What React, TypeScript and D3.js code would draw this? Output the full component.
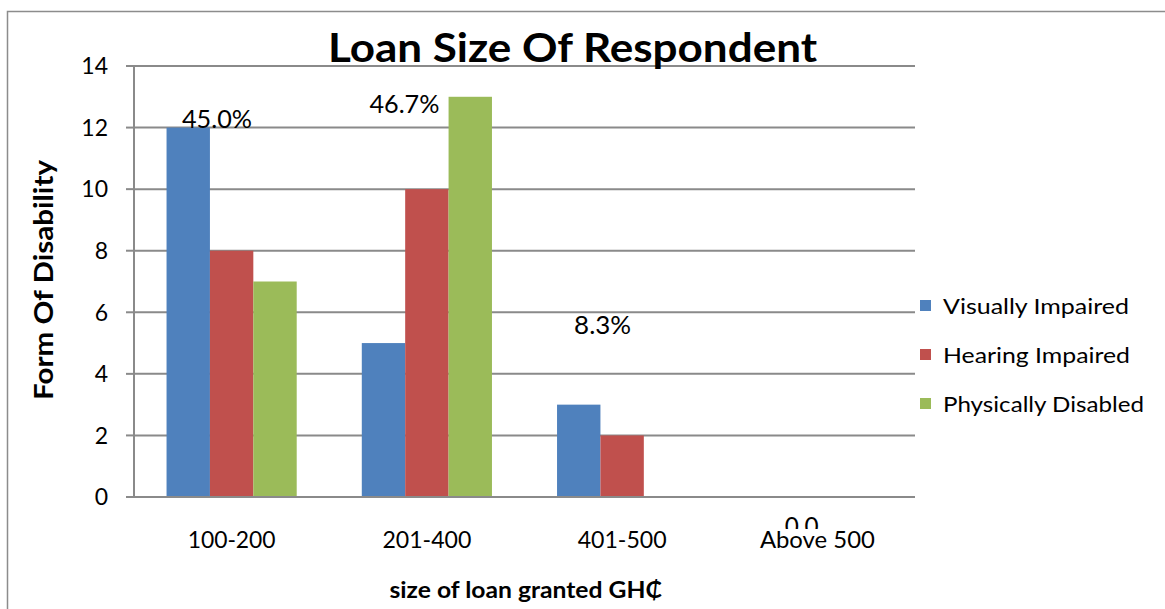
import React from "react";
import * as d3 from "d3";

const categories = ["100-200", "201-400", "401-500", "Above 500"];
const seriesNames = ["Visually Impaired", "Hearing Impaired", "Physically Disabled"];
const visuallyImpaired = [12, 5, 3, 0];
const hearingImpaired = [8, 10, 2, 0];
const physicallyDisabled = [7, 13, 0, 0];
const seriesColors = ["#4F81BD", "#C0504D", "#9BBB59"];
const yTicks = [0, 2, 4, 6, 8, 10, 12, 14];
const pctLabels = ["45.0%", "46.7%", "8.3%", "0.0"];
// label anchor positions expressed in data units (y) and category-relative offset
const pctLabelY = [11.98, 12.47, 5.3, -1.25];
const pctLabelDx = [-0.075, -0.115, -0.1, -0.08];

const FONT = "Lato, 'Open Sans', sans-serif";

export default function App() {
  const W = 1165, H = 609;
  const left = 134, right = 915, top = 66, bottom = 497;
  const x = d3.scaleBand<string>().domain(categories).range([left, right]).paddingInner(0).paddingOuter(0);
  const y = d3.scaleLinear().domain([0, 14]).range([bottom, top]);
  const groupW = x.bandwidth() * (3 / 4.5);
  const xs = d3.scaleBand<number>().domain([0, 1, 2]).range([0, groupW]);
  const series = [visuallyImpaired, hearingImpaired, physicallyDisabled];
  const catLen = [88, 89, 89, 115];
  const pctLen = [70, 70, 57, 34];
  const legLen = [186, 187, 201];

  return (
    <svg width={W} height={H} style={{ position: "absolute", left: 0, top: 0, background: "#fff" }} fontFamily={FONT}>
      <rect x={0} y={0} width={W} height={H} fill="#fff" />
      {/* outer border */}
      <path d={`M7.5,${H} V11.5 H${W}`} fill="none" stroke="#8c8c8c" strokeWidth={1.5} />
      {/* gridlines */}
      {yTicks.map((t) => (
        <g key={t}>
          {t > 0 && <line x1={left} x2={right} y1={y(t)} y2={y(t)} stroke="#8a8a8a" strokeWidth={2} />}
          <line x1={left - 8} x2={left} y1={y(t)} y2={y(t)} stroke="#8a8a8a" strokeWidth={2} />
          <text x={108} y={y(t)} dy="0.36em" textAnchor="end" fontSize={23} fill="#000">{t}</text>
        </g>
      ))}
      {/* bars */}
      {categories.map((c, i) => {
        const gx = (x(c) as number) + (x.bandwidth() - groupW) / 2;
        return series.map((s, k) =>
          s[i] > 0 ? (
            <rect key={c + k} x={gx + (xs(k) as number)} y={y(s[i])} width={xs.bandwidth()} height={y(0) - y(s[i])} fill={seriesColors[k]} />
          ) : null
        );
      })}
      {/* axes */}
      <line x1={left} x2={left} y1={top} y2={bottom} stroke="#8a8a8a" strokeWidth={2} />
      <line x1={left - 8} x2={right} y1={bottom} y2={bottom} stroke="#8a8a8a" strokeWidth={2} />
      {/* data labels */}
      {categories.map((c, i) => (
        <text key={"p" + c} x={(x(c) as number) + x.bandwidth() * (0.5 + pctLabelDx[i])} y={y(pctLabelY[i])} textAnchor="middle" fontSize={25} fill="#000" textLength={pctLen[i]} lengthAdjust="spacingAndGlyphs">{pctLabels[i]}</text>
      ))}
      {/* category labels */}
      {categories.map((c, i) => (
        <g key={"c" + c}>
          <rect x={(x(c) as number) + 20} y={529} width={x.bandwidth() - 40} height={28} fill="#fff" />
          <text x={(x(c) as number) + x.bandwidth() / 2} y={548} textAnchor="middle" fontSize={24} fill="#000" textLength={catLen[i]} lengthAdjust="spacingAndGlyphs">{c}</text>
        </g>
      ))}
      {/* title */}
      <text x={572.5} y={62} textAnchor="middle" fontSize={41} fontWeight="bold" fill="#000" textLength={489} lengthAdjust="spacingAndGlyphs">Loan Size Of Respondent</text>
      {/* axis titles */}
      <text transform={`translate(53,${280}) rotate(-90)`} textAnchor="middle" fontSize={26} fontWeight="bold" fill="#000" textLength={240} lengthAdjust="spacingAndGlyphs">Form Of Disability</text>
      <text x={526} y={598} textAnchor="middle" fontSize={23} fontWeight="bold" fill="#000" textLength={273} lengthAdjust="spacingAndGlyphs">size of loan granted GH₵</text>
      {/* legend */}
      {seriesNames.map((n, k) => (
        <g key={n}>
          <rect x={920} y={300 + k * 49} width={11} height={11} fill={seriesColors[k]} />
          <text x={943} y={306 + k * 49} dy="0.36em" fontSize={22} fill="#000" textLength={legLen[k]} lengthAdjust="spacingAndGlyphs">{n}</text>
        </g>
      ))}
    </svg>
  );
}
